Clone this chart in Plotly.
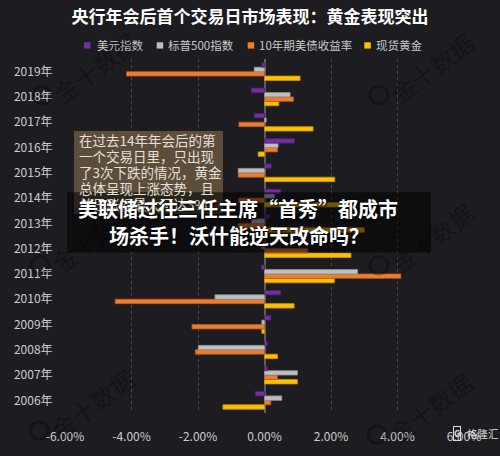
import plotly.graph_objects as go

# ---------------- data ----------------
years = ["2006年", "2007年", "2008年", "2009年", "2010年", "2011年", "2012年",
         "2013年", "2014年", "2015年", "2016年", "2017年", "2018年", "2019年"]
usd_index = [-0.28, 0.09, 0.09, 0.19, 0.49, -0.09, 0.05, 0.15, 0.49, 0.20, 0.90, -0.30, -0.40, -0.08]
sp500 = [0.52, 0.99, -1.99, -0.08, -1.49, 2.80, -0.09, -0.39, 0.30, -0.79, 0.41, 0.05, 0.77, -0.31]
us10y_yield = [0.19, 0.39, -2.08, -2.18, -4.49, 4.10, 1.30, -0.79, -0.78, -0.79, 0.39, -0.77, 0.87, -4.15]
spot_gold = [-1.25, 0.99, 0.39, -0.08, 0.89, 2.10, 2.60, 3.00, 2.65, 2.11, -0.19, 1.46, 0.43, 1.07]

series_names = ["美元指数", "标普500指数", "10年期美债收益率", "现货黄金"]
series_values = [usd_index, sp500, us10y_yield, spot_gold]
series_colors = ["#7030A0", "#BFBFBF", "#ED7D31", "#FFC000"]
series_edges = ["#4f1f75", "#8f8f8f", "#b85a1c", "#c99600"]

x_ticks = [-6, -4, -2, 0, 2, 4, 6]
x_ticktext = ["-6.00%", "-4.00%", "-2.00%", "0.00%", "2.00%", "4.00%", "6.00%"]

title_text = "央行年会后首个交易日市场表现：黄金表现突出"
note_lines = ["在过去14年年会后的第", "一个交易日里，只出现", "了3次下跌的情况，黄金",
              "总体呈现上涨态势，且", "单日涨幅最大可达3%"]
headline_lines = ["美联储过往三任主席“首秀”都成市", "场杀手！沃什能逆天改命吗？"]

# ---------------- geometry helpers ----------------
W, H = 500, 456
L, R, T, B = 65, 464, 59, 423


def px(xp):
    return (xp - L) / (R - L)


def py(yp):
    return (B - yp) / (B - T)


FONT = "Noto Sans CJK SC, Noto Sans, sans-serif"
BG = "#1d1c20"

fig = go.Figure()

# add in reverse so purple sits on top within each group
for name, vals, col, edge in reversed(list(zip(series_names, series_values, series_colors, series_edges))):
    fig.add_trace(go.Bar(
        x=vals, y=years, orientation="h", name=name,
        marker=dict(color=col, line=dict(color=edge, width=0.8)),
        showlegend=False,
    ))

shapes = []
annotations = []

# legend squares + labels
legend_sq = [84, 156.7, 247.7, 364.3]
legend_tx = [95, 165.7, 256.7, 374]
for name, col, sx, tx in zip(series_names, series_colors, legend_sq, legend_tx):
    shapes.append(dict(type="rect", xref="paper", yref="paper",
                       x0=px(sx), x1=px(sx + 6.5), y0=py(48.3), y1=py(41.8),
                       fillcolor=col, line=dict(width=0), layer="above"))
    annotations.append(dict(text=name, xref="paper", yref="paper", x=px(tx), y=py(45),
                            xanchor="left", yanchor="middle", showarrow=False,
                            font=dict(family=FONT, size=11.5, color="#c8c8c8")))

# watermarks "金十数据"
wm_text_centers = [(95, 68), (432, 68), (93, 243), (432, 243), (92, 413), (430, 417)]
for cx, cy in wm_text_centers:
    annotations.append(dict(text="金十数据", xref="paper", yref="paper", x=px(cx), y=py(cy),
                            xanchor="center", yanchor="middle", showarrow=False, textangle=-37,
                            font=dict(family=FONT, size=24, color="rgba(0,0,0,0.28)")))
    ccx, ccy = cx - 53, cy + 28
    shapes.append(dict(type="circle", xref="paper", yref="paper",
                       x0=px(ccx - 9), x1=px(ccx + 9), y0=py(ccy + 9), y1=py(ccy - 9),
                       line=dict(color="rgba(0,0,0,0.28)", width=3), layer="above"))

# note box
shapes.append(dict(type="rect", xref="paper", yref="paper",
                   x0=px(74), x1=px(223), y0=py(218), y1=py(133),
                   fillcolor="rgba(96,81,61,0.95)", line=dict(width=0), layer="above"))
for i, line in enumerate(note_lines):
    annotations.append(dict(text=line, xref="paper", yref="paper", x=px(77), y=py(142 + i * 16.5),
                            xanchor="left", yanchor="middle", showarrow=False,
                            font=dict(family=FONT, size=13.5, color="#e4e0da")))

# headline overlay band
shapes.append(dict(type="rect", xref="paper", yref="paper",
                   x0=px(67), x1=px(431), y0=py(258), y1=py(196),
                   fillcolor="rgba(0,0,0,0.55)", line=dict(width=0), layer="above"))
annotations.append(dict(text="<b>" + headline_lines[0] + "</b>", xref="paper", yref="paper",
                        x=px(238), y=py(213), xanchor="center", yanchor="middle", showarrow=False,
                        font=dict(family=FONT, size=20, color="#ffffff", shadow="1px 1px 2px #000")))
annotations.append(dict(text="<b>" + headline_lines[1] + "</b>", xref="paper", yref="paper",
                        x=px(239), y=py(240), xanchor="center", yanchor="middle", showarrow=False,
                        font=dict(family=FONT, size=20, color="#ffffff", shadow="1px 1px 2px #000")))

# source logo bottom-right
annotations.append(dict(text="<b>G</b>", xref="paper", yref="paper", x=px(456.5), y=py(444),
                        xanchor="center", yanchor="middle", showarrow=False,
                        bordercolor="#dcdcdc", borderwidth=1, borderpad=0,
                        font=dict(family=FONT, size=9, color="#dcdcdc")))
annotations.append(dict(text="格隆汇", xref="paper", yref="paper", x=px(465), y=py(444),
                        xanchor="left", yanchor="middle", showarrow=False,
                        font=dict(family=FONT, size=10.5, color="#dcdcdc")))

fig.update_layout(
    width=W, height=H,
    margin=dict(l=L, r=W - R, t=T, b=H - B, pad=0),
    paper_bgcolor=BG, plot_bgcolor=BG,
    barmode="group", bargap=0.3, bargroupgap=0,
    title=dict(text="<b>" + title_text + "</b>", x=0.5, xanchor="center",
               y=1 - 17 / H, yanchor="middle", xref="container",
               font=dict(family=FONT, size=17, color="#ffffff")),
    font=dict(family=FONT, color="#c8c8c8"),
    shapes=shapes, annotations=annotations,
    showlegend=False,
)
fig.update_xaxes(range=[-6, 6], tickvals=x_ticks, ticktext=x_ticktext,
                 showgrid=True, gridcolor="#4a4a4a", griddash="dot", gridwidth=1,
                 zeroline=True, zerolinecolor="#5c5c5c", zerolinewidth=2,
                 ticks="outside", ticklen=13, tickcolor="rgba(0,0,0,0)",
                 tickfont=dict(family=FONT, size=12, color="#cccccc"), showline=False)
fig.update_yaxes(categoryorder="array", categoryarray=years, showgrid=False,
                 ticks="outside", ticklen=9, tickcolor="rgba(0,0,0,0)",
                 tickfont=dict(family=FONT, size=12, color="#cccccc"), showline=False)

fig.write_html("out.html")
